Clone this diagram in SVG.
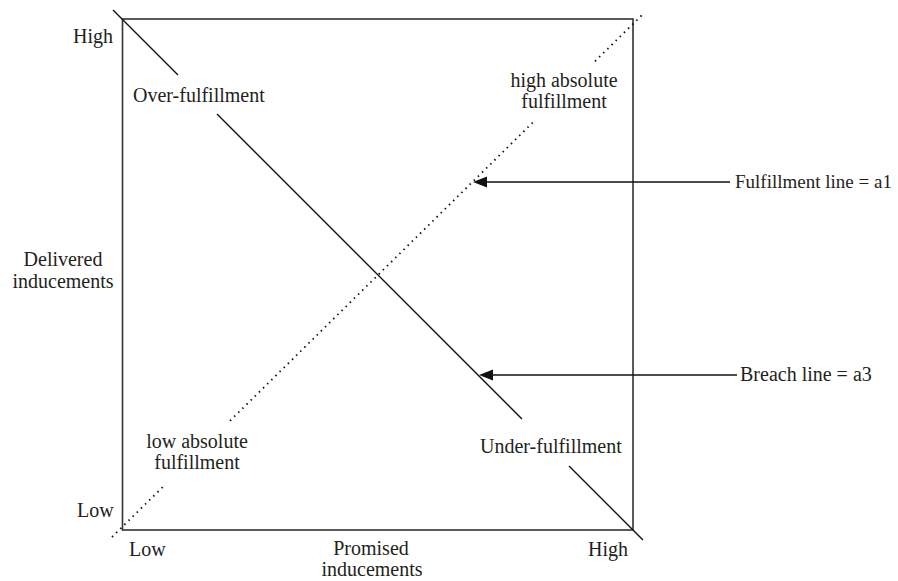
<svg xmlns="http://www.w3.org/2000/svg" width="898" height="581" viewBox="0 0 898 581">
<style>
text{font-family:"Liberation Serif","Times New Roman",serif;font-size:20px;fill:#231f20}
.m{text-anchor:middle}
.s{font-size:19px}
.box{fill:none;stroke:#333;stroke-width:1.6}
.solid{stroke:#111;stroke-width:1.4;fill:none}
.dot{stroke:#111;stroke-width:1.8;fill:none;stroke-dasharray:1.5 4.3}
.arr{stroke:#111;stroke-width:1.4;fill:none}
.head{fill:#111}
</style>
<rect width="898" height="581" fill="#fff"/>
<g id="frame"><rect class="box" x="122.5" y="19" width="510.5" height="511"/></g>
<g id="connectors">
<path class="solid" d="M113 10L178 75M217 114L522 419M569 466L643 540"/>
<path class="dot" d="M112 537L164 485.8M230 420.8L533 122.3M595 61.3L642 15"/>
<path class="arr" d="M730 182H486"/>
<polygon class="head" points="473,182 487,176.5 487,187.5"/>
<path class="arr" d="M737 375H492"/>
<polygon class="head" points="479,375 493,369.5 493,380.5"/>
</g>
<g id="y-high"><text x="73" y="43">High</text></g>
<g id="y-low"><text x="77" y="517">Low</text></g>
<g id="y-axis-label"><text class="m" x="63" y="266">Delivered</text><text class="m" x="63" y="288">inducements</text></g>
<g id="x-low"><text x="129" y="556">Low</text></g>
<g id="x-high"><text x="588" y="556">High</text></g>
<g id="x-axis-label"><text class="m" x="371" y="555">Promised</text><text class="m" x="372" y="576">inducements</text></g>
<g id="over"><text x="133" y="102">Over-fulfillment</text></g>
<g id="under"><text x="480" y="453">Under-fulfillment</text></g>
<g id="high-abs"><text class="m" x="564" y="87">high absolute</text><text class="m" x="564" y="108">fulfillment</text></g>
<g id="low-abs"><text class="m" x="197" y="448">low absolute</text><text class="m" x="197" y="469">fulfillment</text></g>
<g id="fulfillment-label"><text class="s" x="735" y="188">Fulfillment line = a1</text></g>
<g id="breach-label"><text x="740" y="381">Breach line = a3</text></g>
</svg>
